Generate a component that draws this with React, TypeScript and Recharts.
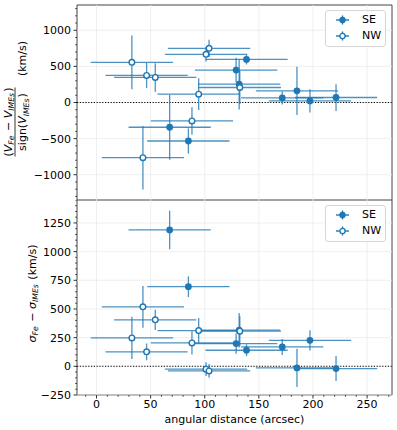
import React from "react"
import {
    ScatterChart,
    Scatter,
    XAxis,
    YAxis,
    ErrorBar,
    ReferenceLine,
    ReferenceArea,
} from "recharts"

// SE region (filled markers)
const seDist = [67.6, 84.9, 129, 131.8, 138.6, 171.6, 185.2, 197.2, 221.3]
const seDistErr = [38, 38, 38, 38, 38, 38, 38, 38, 38]
const seDv = [-343, -533, 449, 254, 597, 64, 161, 22, 69]
const seDvErr = [450, 175, 170, 350, 70, 90, 335, 160, 185]
const seDsig = [1189, 694, 198, 315, 140, 169, -14, 227, -20]
const seDsigErr = [168, 90, 88, 150, 52, 70, 167, 88, 109]

// NW region (open markers)
const nwDist = [32.7, 42.9, 46.3, 54.3, 88.2, 94.4, 101.2, 104, 132.4]
const nwDistErr = [38, 38, 38, 38, 38, 38, 38, 38, 38]
const nwDv = [556, -764, 375, 347, -255, 115, 667, 750, 208]
const nwDvErr = [372, 440, 173, 198, 190, 220, 100, 120, 230]
const nwDsig = [248, 519, 126, 405, 204, 312, -25, -40, 306]
const nwDsigErr = [185, 182, 73, 88, 102, 110, 60, 60, 130]

const xTicks = [0, 50, 100, 150, 200, 250]
const topYTicks = [-1000, -500, 0, 500, 1000]
const bottomYTicks = [-250, 0, 250, 500, 750, 1000, 1250]

const xDomain: [number, number] = [-18, 273]
const topDomain: [number, number] = [-1350, 1350]
const bottomDomain: [number, number] = [-250, 1450]

const xMinor = Array.from({ length: 29 }, (_, i) => -10 + i * 10)
const topMinor = Array.from({ length: 27 }, (_, i) => -1300 + i * 100)
const bottomMinor = Array.from({ length: 35 }, (_, i) => -250 + i * 50)

const BLUE = "#1f77b4"
const FONT = '"DejaVu Sans", sans-serif'
const FS = 11
const GRID = "#ebebeb"

const build = (dist: number[], dErr: number[], vals: number[], vErr: number[]) =>
    dist.map((d, i) => ({ x: d, y: vals[i], xe: dErr[i], ye: vErr[i] }))

const seTop = build(seDist, seDistErr, seDv, seDvErr)
const nwTop = build(nwDist, nwDistErr, nwDv, nwDvErr)
const seBottom = build(seDist, seDistErr, seDsig, seDsigErr)
const nwBottom = build(nwDist, nwDistErr, nwDsig, nwDsigErr)

const fmt = (v: number) => (v < 0 ? "\u2212" + Math.abs(v) : String(v))

const makeYTick = (major: number[]) => (props: any) => {
    const { x, y, payload } = props
    const isMajor = major.includes(payload.value)
    return (
        <g>
            <line x1={x - (isMajor ? 3.5 : 2)} x2={x} y1={y} y2={y} stroke="#000" strokeWidth={isMajor ? 0.8 : 0.6} />
            {isMajor && (
                <text x={x - 6} y={y} dy="0.36em" textAnchor="end" fontSize={FS} fontFamily={FONT} fill="#000">
                    {fmt(payload.value)}
                </text>
            )}
        </g>
    )
}

const XTick = (props: any) => {
    const { x, y, payload } = props
    const isMajor = xTicks.includes(payload.value)
    return (
        <g>
            <line x1={x} x2={x} y1={y} y2={y + (isMajor ? 3.5 : 2)} stroke="#000" strokeWidth={isMajor ? 0.8 : 0.6} />
            {isMajor && (
                <text x={x} y={y + 5} dy="0.72em" textAnchor="middle" fontSize={FS} fontFamily={FONT} fill="#000">
                    {fmt(payload.value)}
                </text>
            )}
        </g>
    )
}

const Sub = ({ children }: { children: string }) => (
    <>
        <tspan fontSize={7.7} dy={2.7} fontStyle="italic">{children}</tspan>
        <tspan dy={-2.7}>{"\u200a"}</tspan>
    </>
)

const TopYLabel = (props: any) => {
    const vb = props.viewBox || { x: 0, y: 5, width: 77, height: 195 }
    const cx = vb.x + 20
    const cy = vb.y + vb.height / 2
    return (
        <g transform={`rotate(-90 ${cx} ${cy})`} fontFamily={FONT} fontSize={FS} fill="#000">
            <text x={cx - 19.5} y={cy - 8.5} textAnchor="middle">
                (<tspan fontStyle="italic">V</tspan>
                <Sub>Fe</Sub> {"\u2212"} <tspan fontStyle="italic">V</tspan>
                <Sub>IMEs</Sub>)
            </text>
            <line x1={cx - 54} x2={cx + 15} y1={cy - 5} y2={cy - 5} stroke="#000" strokeWidth={0.8} />
            <text x={cx - 19.5} y={cy + 6} textAnchor="middle">
                sign(<tspan fontStyle="italic">V</tspan>
                <Sub>IMEs</Sub>)
            </text>
            <text x={cx + 44} y={cy + 6} textAnchor="middle">(km/s)</text>
        </g>
    )
}

const BottomYLabel = (props: any) => {
    const vb = props.viewBox || { x: 0, y: 0, width: 77, height: 195 }
    const x = vb.x + 35.5
    const y = vb.y + vb.height / 2 - 4
    return (
        <text x={x} y={y} transform={`rotate(-90 ${x} ${y})`} textAnchor="middle" fontFamily={FONT} fontSize={FS} fill="#000">
            <tspan fontStyle="italic">{"\u03c3"}</tspan>
            <Sub>Fe</Sub> {"\u2212"} <tspan fontStyle="italic">{"\u03c3"}</tspan>
            <Sub>IMEs</Sub> (km/s)
        </text>
    )
}

const XLabel = (props: any) => {
    const vb = props.viewBox || { x: 77, y: 395, width: 315, height: 35 }
    return (
        <text x={vb.x + vb.width / 2} y={vb.y + 28} textAnchor="middle" fontFamily={FONT} fontSize={FS} fill="#000">
            angular distance (arcsec)
        </text>
    )
}

const filledDot = (p: any) => <circle cx={p.cx} cy={p.cy} r={3.4} fill={BLUE} />
const openDot = (p: any) => <circle cx={p.cx} cy={p.cy} r={2.8} fill="#fff" stroke={BLUE} strokeWidth={1.4} />

function LegendBox({ top }: { top: number }) {
    const row = (label: string, filled: boolean, y: number) => (
        <div style={{ position: "absolute", left: 0, top: y, width: 61, height: 14 }}>
            <svg width={26} height={14} style={{ position: "absolute", left: 4, top: 0 }}>
                <line x1={6} x2={19} y1={7} y2={7} stroke={BLUE} strokeWidth={1.4} />
                <line x1={12.5} x2={12.5} y1={2.5} y2={11.5} stroke={BLUE} strokeWidth={1.4} />
                {filled ? (
                    <circle cx={12.5} cy={7} r={3.2} fill={BLUE} />
                ) : (
                    <circle cx={12.5} cy={7} r={2.6} fill="#fff" stroke={BLUE} strokeWidth={1.3} />
                )}
            </svg>
            <span style={{ position: "absolute", left: 36, top: 0, lineHeight: "14px", fontSize: FS, fontFamily: FONT, color: "#000" }}>
                {label}
            </span>
        </div>
    )
    return (
        <div
            style={{
                position: "absolute",
                left: 325,
                top,
                width: 61,
                height: 37,
                border: "1px solid #d6d6d6",
                borderRadius: 3,
                background: "rgba(255,255,255,0.8)",
                boxSizing: "border-box",
            }}
        >
            {row("SE", true, 2)}
            {row("NW", false, 18)}
        </div>
    )
}

const series = (se: any[], nw: any[]) => [
    <Scatter key="se" name="SE" data={se} shape={filledDot} isAnimationActive={false}>
        <ErrorBar dataKey="xe" direction="x" width={0} stroke={BLUE} strokeWidth={1.3} strokeOpacity={0.8} />
        <ErrorBar dataKey="ye" direction="y" width={0} stroke={BLUE} strokeWidth={1.3} strokeOpacity={0.8} />
    </Scatter>,
    <Scatter key="nw" name="NW" data={nw} shape={openDot} isAnimationActive={false}>
        <ErrorBar dataKey="xe" direction="x" width={0} stroke={BLUE} strokeWidth={1.3} strokeOpacity={0.8} />
        <ErrorBar dataKey="ye" direction="y" width={0} stroke={BLUE} strokeWidth={1.3} strokeOpacity={0.8} />
    </Scatter>,
]

const grid = (yTicks: number[], prefix: string) => [
    ...xTicks.map((t) => <ReferenceLine key={`${prefix}x${t}`} x={t} stroke={GRID} strokeWidth={0.8} />),
    ...yTicks.map((t) => <ReferenceLine key={`${prefix}y${t}`} y={t} stroke={GRID} strokeWidth={0.8} />),
]

export default function App() {
    return (
        <div style={{ position: "absolute", left: 0, top: 0, width: 397, height: 430, background: "#fff" }}>
            <ScatterChart width={397} height={200} margin={{ top: 5, right: 5, bottom: 0, left: 0 }}>
                <XAxis dataKey="x" type="number" domain={xDomain} allowDataOverflow hide ticks={xTicks} />
                <YAxis
                    dataKey="y"
                    type="number"
                    domain={topDomain}
                    allowDataOverflow
                    width={77}
                    ticks={topMinor}
                    interval={0}
                    tickSize={0}
                    tickMargin={0}
                    axisLine={false}
                    tickLine={false}
                    tick={makeYTick(topYTicks)}
                    label={{ content: TopYLabel }}
                />
                {grid(topYTicks, "t")}
                <ReferenceLine y={0} stroke="#000" strokeWidth={1.1} strokeDasharray="1.2 1.6" />
                {series(seTop, nwTop)}
                <ReferenceArea x1={xDomain[0]} x2={xDomain[1]} y1={topDomain[0]} y2={topDomain[1]} fill="none" stroke="#444" strokeWidth={1} ifOverflow="visible" />
            </ScatterChart>
            <ScatterChart width={397} height={230} margin={{ top: 0, right: 5, bottom: 0, left: 0 }}>
                <XAxis
                    dataKey="x"
                    type="number"
                    domain={xDomain}
                    allowDataOverflow
                    height={35}
                    ticks={xMinor}
                    interval={0}
                    tickSize={0}
                    tickMargin={0}
                    axisLine={false}
                    tickLine={false}
                    tick={XTick}
                    label={{ content: XLabel }}
                />
                <YAxis
                    dataKey="y"
                    type="number"
                    domain={bottomDomain}
                    allowDataOverflow
                    width={77}
                    ticks={bottomMinor}
                    interval={0}
                    tickSize={0}
                    tickMargin={0}
                    axisLine={false}
                    tickLine={false}
                    tick={makeYTick(bottomYTicks)}
                    label={{ content: BottomYLabel }}
                />
                {grid(bottomYTicks, "b")}
                <ReferenceLine y={0} stroke="#000" strokeWidth={1.1} strokeDasharray="1.2 1.6" />
                {series(seBottom, nwBottom)}
                <ReferenceArea x1={xDomain[0]} x2={xDomain[1]} y1={bottomDomain[0]} y2={bottomDomain[1]} fill="none" stroke="#444" strokeWidth={1} ifOverflow="visible" />
            </ScatterChart>
            <LegendBox top={10} />
            <LegendBox top={205} />
        </div>
    )
}
